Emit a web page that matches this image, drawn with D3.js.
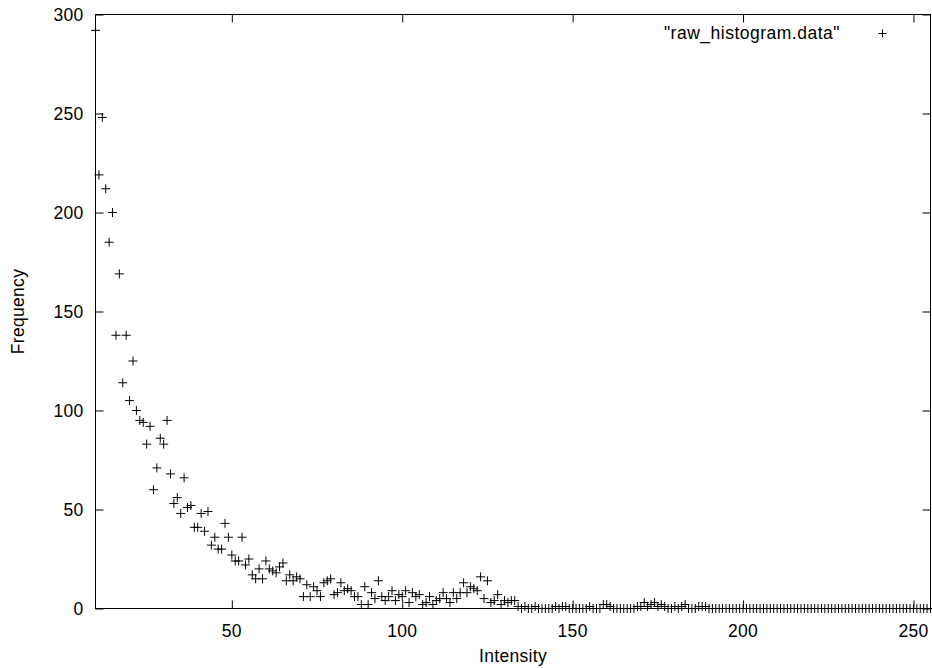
<!DOCTYPE html>
<html>
<head>
<meta charset="utf-8">
<script src="https://cdn.jsdelivr.net/npm/d3@7"></script>
<style>
  html, body { margin: 0; padding: 0; background: #fff; }
  svg { display: block; }
  text { font-family: "Liberation Sans", Arial, Helvetica, sans-serif; fill: #000; }
</style>
</head>
<body>
<svg id="chart" width="932" height="668"></svg>
<script>
// ---- data ----
const firstIntensity = 10;
const frequency = [
  292, 219, 248, 212, 185, 200, 138, 169, 114, 138,   // 10-19
  105, 125, 100, 95, 94, 83, 92, 60, 71, 86,          // 20-29
  83, 95, 68, 53, 56, 48, 66, 51, 52, 41,             // 30-39
  41, 48, 39, 49, 32, 36, 30, 30, 43, 36,             // 40-49
  27, 24, 24, 36, 22, 25, 17, 15, 20, 15,             // 50-59
  24, 20, 19, 18, 21, 23, 14, 17, 14, 16,             // 60-69
  15, 6, 12, 6, 11, 9, 6, 13, 14, 15,                 // 70-79
  7, 8, 13, 9, 10, 9, 6, 6, 2, 11,                    // 80-89
  2, 8, 5, 14, 6, 4, 6, 9, 4, 7,                      // 90-99
  6, 9, 3, 8, 6, 7, 2, 3, 6, 2,                       // 100-109
  4, 5, 8, 5, 3, 8, 5, 8, 13, 8,                      // 110-119
  11, 10, 9, 16, 5, 14, 3, 4, 7, 2,                   // 120-129
  4, 3, 4, 4, 1, 0, 1, 0, 0, 1,                       // 130-139
  0, 0, 0, 0, 0, 1, 0, 1, 1, 0,                       // 140-149
  0, 0, 0, 0, 0, 1, 0, 0, 0, 2,                       // 150-159
  2, 1, 0, 0, 0, 0, 0, 0, 0, 1,                       // 160-169
  1, 3, 1, 2, 3, 1, 2, 1, 0, 0,                       // 170-179
  1, 0, 1, 2, 0, 0, 0, 1, 1, 1,                       // 180-189
  0, 0, 0, 0, 0, 0, 0, 0, 0, 0,                       // 190-199
  0, 0, 0, 0, 0, 0, 0, 0, 0, 0,                       // 200-209
  0, 0, 0, 0, 0, 0, 0, 0, 0, 0,                       // 210-219
  0, 0, 0, 0, 0, 0, 0, 0, 0, 0,                       // 220-229
  0, 0, 0, 0, 0, 0, 0, 0, 0, 0,                       // 230-239
  0, 0, 0, 0, 0, 0, 0, 0, 0, 0,                       // 240-249
  0, 0, 0, 0, 0, 0                                    // 250-255
];
const xTicks = [50, 100, 150, 200, 250];
const yTicks = [0, 50, 100, 150, 200, 250, 300];
const xDomain = [10, 255];
const yDomain = [0, 300];
const seriesName = '"raw_histogram.data"';
const xTitle = "Intensity";
const yTitle = "Frequency";

// ---- layout ----
const svg = d3.select("#chart");
const L = 95.5, R = 930.5, T = 14.5, B = 608.5;
const x = d3.scaleLinear().domain(xDomain).range([L, R]);
const y = d3.scaleLinear().domain(yDomain).range([B, T]);
const tickLen = 8;
const fontSize = 17.5;

const points = frequency.map((f, i) => ({ xi: firstIntensity + i, f }));

// frame
svg.append("rect")
  .attr("x", L).attr("y", T).attr("width", R - L).attr("height", B - T)
  .attr("fill", "none").attr("stroke", "#000").attr("stroke-width", 1);

// axes (ticks inward, mirrored)
const axLeft = d3.axisRight(y).tickValues(yTicks).tickSize(tickLen).tickFormat("");
const axRight = d3.axisLeft(y).tickValues(yTicks).tickSize(tickLen).tickFormat("");
const axBottom = d3.axisTop(x).tickValues(xTicks).tickSize(tickLen).tickFormat("");
const axTop = d3.axisBottom(x).tickValues(xTicks).tickSize(tickLen).tickFormat("");

function styleAxis(g) {
  g.select(".domain").remove();
  g.selectAll(".tick line").attr("stroke", "#000").attr("stroke-width", 1);
}
svg.append("g").attr("transform", `translate(${L},0)`).call(axLeft).call(styleAxis);
svg.append("g").attr("transform", `translate(${R},0)`).call(axRight).call(styleAxis);
svg.append("g").attr("transform", `translate(0,${B})`).call(axBottom).call(styleAxis);
svg.append("g").attr("transform", `translate(0,${T})`).call(axTop).call(styleAxis);

// tick labels
svg.append("g").selectAll("text").data(yTicks).join("text")
  .attr("x", 83.5).attr("y", d => y(d)).attr("dy", "0.35em")
  .attr("text-anchor", "end").attr("font-size", fontSize)
  .attr("letter-spacing", "0.3px")
  .text(d => d);
svg.append("g").selectAll("text").data(xTicks).join("text")
  .attr("x", d => x(d)).attr("y", 637)
  .attr("text-anchor", "middle").attr("font-size", fontSize)
  .attr("letter-spacing", "0.3px")
  .text(d => d);

// axis titles
svg.append("text")
  .attr("x", (L + R) / 2).attr("y", 662)
  .attr("text-anchor", "middle").attr("font-size", fontSize)
  .attr("letter-spacing", "0.3px")
  .text(xTitle);
svg.append("text")
  .attr("transform", `translate(24,${(T + B) / 2}) rotate(-90)`)
  .attr("text-anchor", "middle").attr("font-size", fontSize)
  .attr("letter-spacing", "0.3px")
  .text(yTitle);

// points as "+" markers
const h = 4.5;
svg.append("g").selectAll("path").data(points).join("path")
  .attr("d", d => {
    const cx = x(d.xi), cy = y(d.f);
    return `M${cx - h},${cy}H${cx + h}M${cx},${cy - h}V${cy + h}`;
  })
  .attr("stroke", "#000").attr("stroke-width", 1).attr("fill", "none");

// legend
svg.append("text")
  .attr("x", 840).attr("y", 39)
  .attr("text-anchor", "end").attr("font-size", fontSize)
  .attr("letter-spacing", "0.5px")
  .text(seriesName);
const lx = 882.5, ly = 33.5, lh = 4;
svg.append("path")
  .attr("d", `M${lx - lh},${ly}H${lx + lh}M${lx},${ly - lh}V${ly + lh}`)
  .attr("stroke", "#000").attr("stroke-width", 1);
</script>
</body>
</html>
